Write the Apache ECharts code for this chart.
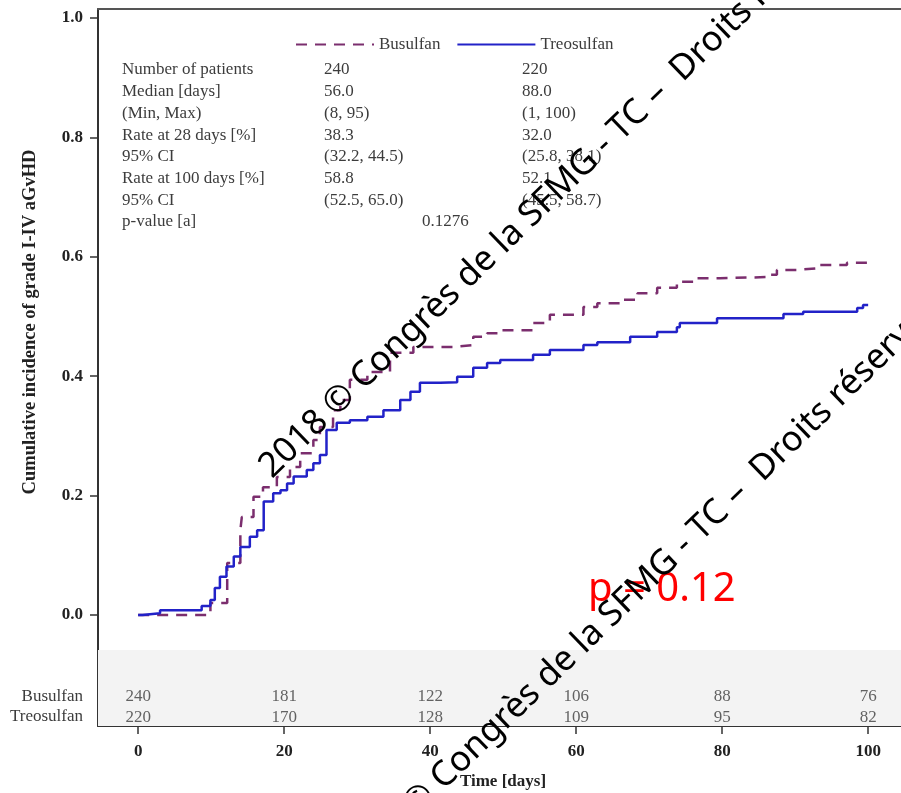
<!DOCTYPE html>
<html>
<head>
<meta charset="utf-8">
<script src="https://cdn.jsdelivr.net/npm/echarts@6/dist/echarts.min.js"></script>
<style>
html, body { margin: 0; padding: 0; background: #fff; }
#main { width: 901px; height: 793px; }
</style>
</head>
<body>
<div id="main"></div>
<script>
// courbes d'incidence cumulée (jours, incidence)
const busulfanTime = [0, 9.5, 9.9, 12.2, 14.0, 14.2, 15.8, 17.1, 19.0, 20.8, 22.2, 24.0, 24.9, 26.7, 27.7, 29.0, 31.4, 34.5, 37.7, 43.2, 45.9, 47.8, 49.6, 54.1, 56.4, 61.0, 62.9, 66.0, 68.4, 71.1, 73.8, 76.6, 79.7, 86.2, 87.5, 90.3, 93.4, 97.1, 100];
const busulfanInc = [0, 0, 0.02, 0.087, 0.142, 0.164, 0.198, 0.214, 0.231, 0.248, 0.271, 0.293, 0.315, 0.343, 0.36, 0.394, 0.407, 0.439, 0.449, 0.452, 0.466, 0.472, 0.477, 0.489, 0.503, 0.516, 0.522, 0.528, 0.539, 0.548, 0.558, 0.564, 0.566, 0.57, 0.578, 0.581, 0.586, 0.59, 0.59];
const treosulfanTime = [0, 0.6, 3.0, 8.7, 9.9, 10.5, 11.2, 12.1, 13.1, 14.0, 15.3, 16.3, 17.2, 18.5, 19.5, 20.4, 21.3, 23.1, 24.0, 24.9, 25.8, 27.2, 29.0, 31.4, 33.6, 35.9, 37.3, 38.6, 41.4, 43.7, 45.9, 47.8, 49.6, 54.1, 56.4, 61.0, 62.9, 67.4, 71.1, 73.8, 74.2, 79.3, 88.4, 91.1, 98.5, 99.3, 100];
const treosulfanInc = [0, 0.003, 0.008, 0.015, 0.025, 0.045, 0.064, 0.081, 0.098, 0.114, 0.131, 0.142, 0.19, 0.204, 0.209, 0.22, 0.232, 0.243, 0.254, 0.268, 0.31, 0.322, 0.326, 0.332, 0.343, 0.36, 0.374, 0.389, 0.39, 0.399, 0.414, 0.422, 0.427, 0.436, 0.444, 0.452, 0.457, 0.466, 0.474, 0.482, 0.489, 0.497, 0.504, 0.508, 0.514, 0.519, 0.52];

// patients à risque
const riskTimes = [0, 20, 40, 60, 80, 100];
const riskBusulfan = [240, 181, 122, 106, 88, 76];
const riskTreosulfan = [220, 170, 128, 109, 95, 82];

// graduations
const xTicks = [0, 20, 40, 60, 80, 100];
const yTicks = [0, 0.2, 0.4, 0.6, 0.8, 1.0];

// tableau de résumé
const statLabels = ['Number of patients', 'Median [days]', '(Min, Max)', 'Rate at 28 days [%]', '95% CI', 'Rate at 100 days [%]', '95% CI', 'p-value [a]'];
const statBusulfan = ['240', '56.0', '(8, 95)', '38.3', '(32.2, 44.5)', '58.8', '(52.5, 65.0)', ''];
const statTreosulfan = ['220', '88.0', '(1, 100)', '32.0', '(25.8, 38.1)', '52.1', '(45.5, 58.7)', ''];
const pValue = '0.1276';

const watermark = '2018 © Congrès de la SFMG - TC –  Droits réservés';

const serif = '"Liberation Serif", "DejaVu Serif", serif';
const textGrey = '#3c3c3c';
const fs = 17;

function zip(a, b) {
    return a.map((v, i) => [v, b[i]]);
}

const graphics = [];
statLabels.forEach((t, i) => {
    const y = 70 + i * 21.7;
    graphics.push({ type: 'text', x: 122, y: y, style: { text: t, fill: textGrey, font: fs + 'px ' + serif, verticalAlign: 'middle' } });
    graphics.push({ type: 'text', x: 324, y: y, style: { text: statBusulfan[i], fill: textGrey, font: fs + 'px ' + serif, verticalAlign: 'middle' } });
    graphics.push({ type: 'text', x: 522, y: y, style: { text: statTreosulfan[i], fill: textGrey, font: fs + 'px ' + serif, verticalAlign: 'middle' } });
});
graphics.push({ type: 'text', x: 422, y: 70 + 7 * 21.7, style: { text: pValue, fill: textGrey, font: fs + 'px ' + serif, verticalAlign: 'middle' } });
// libellés des axes
graphics.push({
    type: 'text', x: 30, y: 322, rotation: Math.PI / 2,
    style: { text: 'Cumulative incidence of grade I-IV aGvHD', fill: '#222', font: 'bold 18.5px ' + serif, align: 'center', verticalAlign: 'middle' }
});
graphics.push({
    type: 'text', x: 503, y: 782,
    style: { text: 'Time [days]', fill: '#222', font: 'bold 17px ' + serif, align: 'center', verticalAlign: 'middle' }
});
// tableau des patients à risque
graphics.push({ type: 'text', x: 100, y: 673, style: { text: 'Patients at risk', fill: textGrey, font: fs + 'px ' + serif, align: 'left', verticalAlign: 'middle' } });
graphics.push({ type: 'text', x: 83, y: 697, style: { text: 'Busulfan', fill: textGrey, font: fs + 'px ' + serif, align: 'right', verticalAlign: 'middle' } });
graphics.push({ type: 'text', x: 83, y: 717, style: { text: 'Treosulfan', fill: textGrey, font: fs + 'px ' + serif, align: 'right', verticalAlign: 'middle' } });
// filigranes
const wmRot = 44 * Math.PI / 180;
graphics.push({ type: 'text', x: 265, y: 472, rotation: wmRot, z: 100, style: { text: watermark, fill: '#000', font: '35px "Noto Sans", sans-serif', align: 'left', verticalAlign: 'middle' } });
graphics.push({ type: 'text', x: 345, y: 872, rotation: wmRot, z: 100, style: { text: watermark, fill: '#000', font: '35px "Noto Sans", sans-serif', align: 'left', verticalAlign: 'middle' } });
graphics.push({ type: 'text', x: 588, y: 590, z: 99, style: { text: 'p = 0.12', fill: '#ff0000', font: '40px "Noto Sans", sans-serif', align: 'left', verticalAlign: 'middle' } });

const option = {
    animation: false,
    backgroundColor: '#fff',
    grid: { left: 98, top: 9, width: 803, height: 717 },
    legend: {
        left: 290,
        top: 31,
        itemWidth: 78,
        itemHeight: 14,
        itemGap: 16,
        itemStyle: { opacity: 0 },
        textStyle: { fontFamily: serif, fontSize: fs, color: textGrey },
        data: ['Busulfan', 'Treosulfan']
    },
    xAxis: [{
        type: 'value',
        min: -5.5,
        max: 104.5,
        splitLine: { show: false },
        axisLine: { onZero: false, lineStyle: { color: '#333', width: 2 } },
        axisTick: { customValues: xTicks, length: 8, lineStyle: { color: '#333', width: 1.5 } },
        axisLabel: { customValues: xTicks, margin: 17, fontFamily: serif, fontWeight: 'bold', fontSize: fs, color: '#222' }
    }, {
        type: 'value',
        position: 'top',
        min: -5.5,
        max: 104.5,
        splitLine: { show: false },
        axisLine: { onZero: false, lineStyle: { color: '#555', width: 2 } },
        axisTick: { show: false },
        axisLabel: { show: false }
    }],
    yAxis: {
        type: 'value',
        min: -0.186,
        max: 1.015,
        splitLine: { show: false },
        axisLine: { onZero: false, lineStyle: { color: '#333', width: 2 } },
        axisTick: { customValues: yTicks, length: 8, lineStyle: { color: '#333', width: 1.5 } },
        axisLabel: {
            customValues: yTicks, margin: 15, fontFamily: serif, fontWeight: 'bold', fontSize: fs, color: '#222',
            formatter: v => v.toFixed(1)
        }
    },
    graphic: graphics,
    series: [
        {
            name: 'Busulfan',
            type: 'line',
            step: 'end',
            symbol: 'none',
            data: zip(busulfanTime, busulfanInc),
            lineStyle: { color: '#7b2e6e', width: 2.5, type: [11, 8] },
            itemStyle: { color: '#7b2e6e' },
            z: 3
        },
        {
            name: 'Treosulfan',
            type: 'line',
            step: 'end',
            symbol: 'none',
            data: zip(treosulfanTime, treosulfanInc),
            lineStyle: { color: '#2222c8', width: 2.5 },
            itemStyle: { color: '#2222c8' },
            z: 4
        },
        {
            name: 'risk-busulfan',
            type: 'scatter',
            symbolSize: 0,
            silent: true,
            data: riskTimes.map((t, i) => [t, -0.137, riskBusulfan[i]]),
            label: {
                show: true, position: 'inside', formatter: p => p.value[2],
                fontFamily: serif, fontSize: fs, color: textGrey
            },
            markArea: {
                silent: true,
                itemStyle: { color: '#f3f3f3' },
                data: [[{ yAxis: -0.186 }, { yAxis: -0.0586 }]]
            },
            z: 1
        },
        {
            name: 'risk-treosulfan',
            type: 'scatter',
            symbolSize: 0,
            silent: true,
            data: riskTimes.map((t, i) => [t, -0.171, riskTreosulfan[i]]),
            label: {
                show: true, position: 'inside', formatter: p => p.value[2],
                fontFamily: serif, fontSize: fs, color: textGrey
            },
            z: 2
        }
    ]
};

const myChart = echarts.init(document.getElementById('main'));
myChart.setOption(option);
</script>
</body>
</html>
